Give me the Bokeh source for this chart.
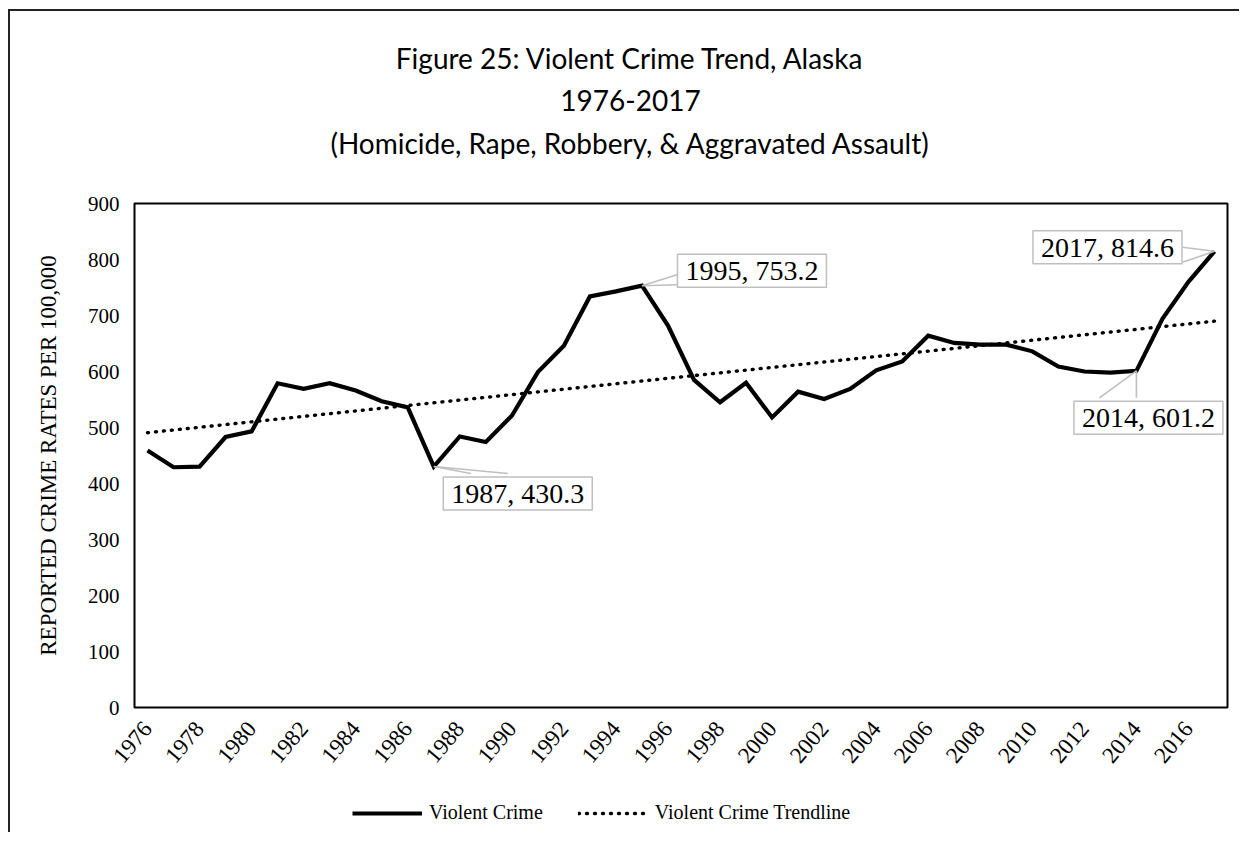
import numpy as np
from bokeh.plotting import figure
from bokeh.layouts import column
from bokeh.models import Range1d, FixedTicker, Label, Legend, LegendItem
from bokeh.embed import file_html
from bokeh.resources import INLINE

# ---------------- data ----------------
years = list(range(1976, 2018))
violent_crime = [459, 429, 430, 483, 493, 579, 569, 579, 566, 547, 536, 430.3,
                 484, 474, 521, 599, 646, 734, 743, 753.2,
                 682, 585, 545, 580, 518, 564, 551, 569, 602, 618,
                 664, 651, 648, 648, 636, 609, 600, 598, 601.2, 694, 760, 814.6]
tick_years = list(range(1976, 2017, 2))
y_ticks = list(range(0, 901, 100))
title_lines = ["Figure 25: Violent Crime Trend, Alaska",
               "1976-2017",
               "(Homicide, Rape, Robbery, & Aggravated Assault)"]
series_names = ["Violent Crime", "Violent Crime Trendline"]
y_axis_title = "REPORTED CRIME RATES PER 100,000"
callout_years = [1987, 1995, 2014, 2017]

# linear trendline (least squares, as Excel)
slope, intercept = np.polyfit(years, violent_crime, 1)
trend = [slope * yr + intercept for yr in years]

# ---------------- layout ----------------
W = 1239
TITLE_H = 183
ML, MR, MT, MB = 134, 12, 20, 80
FW, FH = W - ML - MR, 504
MAIN_H = MT + FH + MB
LEG_H = 832 - TITLE_H - MAIN_H
X0, X1 = years[0] - 0.5, years[-1] + 0.5
Y0, Y1 = 0, 900
PPX = FW / (X1 - X0)   # pixels per year
PPY = FH / (Y1 - Y0)   # pixels per unit

SERIF = "Liberation Serif"
TITLE_FONT = "Lato"
INK = "black"


def blank_fig(h, xr, yr):
    f = figure(width=W, height=h, x_range=xr, y_range=yr,
               output_backend="svg", toolbar_location=None,
               x_axis_location=None, y_axis_location=None,
               min_border_left=ML, min_border_right=MR,
               min_border_top=0, min_border_bottom=0)
    f.outline_line_color = None
    f.background_fill_color = None
    f.border_fill_color = None
    f.grid.visible = False
    return f


# ---------------- title block (frames of the column are aligned) ----------------
t = blank_fig(TITLE_H, Range1d(ML, W - MR), Range1d(TITLE_H, 0))
title_y = [57, 100, 142]
for txt, ty in zip(title_lines, title_y):
    t.add_layout(Label(x=630, y=ty, text=txt, text_align="center", text_baseline="middle",
                       text_font=TITLE_FONT, text_font_size="28px", text_color=INK))

# ---------------- main chart ----------------
p = figure(width=W, height=MAIN_H, x_range=Range1d(X0, X1), y_range=Range1d(Y0, Y1),
           output_backend="svg", toolbar_location=None,
           min_border_left=ML, min_border_right=MR, min_border_top=MT, min_border_bottom=MB)
p.background_fill_color = "white"
p.border_fill_color = None
p.outline_line_color = INK
p.outline_line_width = 2
p.xgrid.visible = False
p.ygrid.visible = False

for ax in (p.xaxis[0], p.yaxis[0]):
    ax.axis_line_color = None
    ax.major_tick_line_color = None
    ax.minor_tick_line_color = None
    ax.major_tick_out = 0
    ax.major_tick_in = 0
    ax.major_label_text_font = SERIF
    ax.major_label_text_color = INK

p.xaxis.ticker = FixedTicker(ticks=tick_years)
p.xaxis.major_label_orientation = 0.87
p.xaxis.major_label_standoff = 17
p.xaxis.major_label_text_font_size = "23px"
p.yaxis.ticker = FixedTicker(ticks=y_ticks)
p.yaxis.major_label_standoff = 15
p.yaxis.major_label_text_font_size = "21px"
p.yaxis.axis_label = y_axis_title
p.yaxis.axis_label_text_font = SERIF
p.yaxis.axis_label_text_font_size = "23px"
p.yaxis.axis_label_text_font_style = "normal"
p.yaxis.axis_label_text_color = INK
p.yaxis.axis_label_standoff = 24

trend_style = dict(line_color=INK, line_width=3.4, line_dash="1 7", line_cap="round")
main_style = dict(line_color=INK, line_width=4.2, line_join="miter")
p.line(years, trend, **trend_style)
p.line(years, violent_crime, **main_style)

# ---------------- callouts ----------------
# label offsets (px) and leader end offsets (px, y downward)
callout_style = {
    1987: dict(label=(84, -27), ends=[(37, 7), (74, 7)]),
    1995: dict(label=(110, 15), ends=[(35, -11), (35, -1)]),
    2014: dict(label=(12, -47), ends=[(-37, 27), (0, 27)]),
    2017: dict(label=(-107, 4), ends=[(-32, -4), (-32, 11)]),
}
lx, ly = [], []
for yr in callout_years:
    val = violent_crime[years.index(yr)]
    for ex, ey in callout_style[yr]["ends"]:
        lx.append([yr, yr + ex / PPX])
        ly.append([val, val - ey / PPY])
p.multi_line(lx, ly, line_color="#bfbfbf", line_width=1.6)

for yr in callout_years:
    val = violent_crime[years.index(yr)]
    dx, dy = callout_style[yr]["label"]
    p.add_layout(Label(x=yr, y=val, x_offset=dx, y_offset=dy,
                       text=f"{yr}, {val}", text_align="center", text_baseline="middle",
                       text_font=SERIF, text_font_size="28px", text_color=INK,
                       border_line_color="#bfbfbf", border_line_width=1.5,
                       background_fill_color="white",
                       padding=dict(left=8, right=8, top=1, bottom=1)))

# ---------------- legend block ----------------
lg = blank_fig(LEG_H, Range1d(0, 1), Range1d(0, 1))
r_main_key = lg.line([np.nan, np.nan], [np.nan, np.nan], **main_style)
r_trend_key = lg.line([np.nan, np.nan], [np.nan, np.nan], **trend_style)
legend = Legend(items=[LegendItem(label=series_names[0], renderers=[r_main_key]),
                       LegendItem(label=series_names[1], renderers=[r_trend_key])],
                location=(352 - ML, 8), orientation="horizontal",
                border_line_color=None, background_fill_alpha=0,
                glyph_width=70, glyph_height=20, label_standoff=7, spacing=35,
                padding=0, margin=0,
                label_text_font=SERIF, label_text_font_size="20px",
                label_text_color=INK)
lg.add_layout(legend)

layout = column(t, p, lg, spacing=0, styles={
    "background-color": "white",
    "background-image": "linear-gradient(#222222, #222222), linear-gradient(#222222, #222222)",
    "background-size": "100% 2px, 2px 100%",
    "background-position": "8px 9px, 8px 9px",
    "background-repeat": "no-repeat",
})

open("out.html", "w").write(file_html(layout, INLINE))
